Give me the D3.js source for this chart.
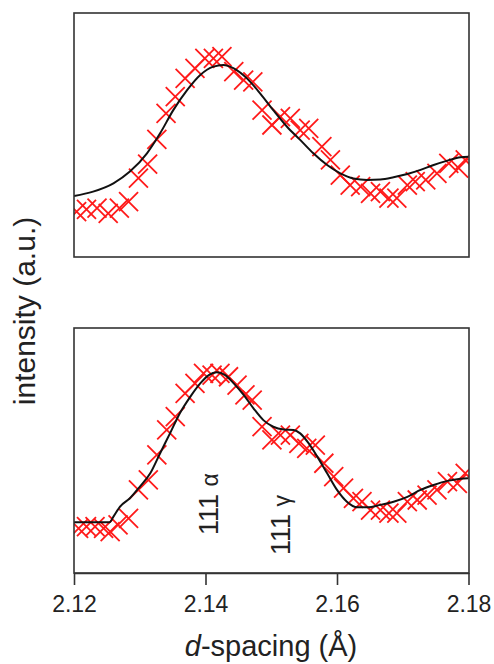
<!DOCTYPE html>
<html>
<head>
<meta charset="utf-8">
<script src="https://cdn.jsdelivr.net/npm/d3@7"></script>
<style>
  html, body { margin: 0; padding: 0; background: #fff; }
  svg { display: block; font-family: "Liberation Sans", Arial, Helvetica, sans-serif; }
</style>
</head>
<body>
<svg id="chart"></svg>
<script>
// d-spacing (Å) / normalised intensity

// top panel: measured points
const topObsD = [2.1204, 2.1219, 2.1235, 2.1252, 2.1269, 2.1283, 2.1298, 2.1312, 2.1326, 2.1340,
  2.1354, 2.1369, 2.1384, 2.1399, 2.1412, 2.1425, 2.1443, 2.1458, 2.1472, 2.1486,
  2.1501, 2.1514, 2.1529, 2.1544, 2.1557, 2.1577, 2.1590, 2.1605, 2.1620, 2.1636,
  2.1651, 2.1666, 2.1679, 2.1691, 2.1707, 2.1719, 2.1735, 2.1752, 2.1770, 2.1785, 2.1795];
const topObsI = [0.186, 0.195, 0.200, 0.179, 0.200, 0.227, 0.323, 0.381, 0.482, 0.589,
  0.657, 0.732, 0.773, 0.814, 0.814, 0.821, 0.760, 0.725, 0.718, 0.602,
  0.541, 0.575, 0.568, 0.520, 0.527, 0.452, 0.398, 0.336, 0.295, 0.288,
  0.261, 0.268, 0.241, 0.241, 0.295, 0.309, 0.316, 0.343, 0.384, 0.364, 0.398];

// top panel: fitted curve
const topFitD = [2.1200, 2.1229, 2.1260, 2.1285, 2.1311, 2.1331, 2.1351, 2.1372, 2.1392, 2.1412,
  2.1427, 2.1443, 2.1463, 2.1483, 2.1503, 2.1524, 2.1544, 2.1564, 2.1585, 2.1605,
  2.1625, 2.1646, 2.1666, 2.1686, 2.1707, 2.1727, 2.1747, 2.1768, 2.1788, 2.1800];
const topFitI = [0.250, 0.268, 0.302, 0.350, 0.425, 0.507, 0.602, 0.684, 0.746, 0.780,
  0.787, 0.773, 0.732, 0.671, 0.602, 0.534, 0.480, 0.425, 0.377, 0.343,
  0.322, 0.316, 0.318, 0.327, 0.340, 0.357, 0.377, 0.395, 0.409, 0.411];

// bottom panel: measured points
const botObsD = [2.1207, 2.1219, 2.1232, 2.1245, 2.1255, 2.1267, 2.1283, 2.1298, 2.1313, 2.1326,
  2.1341, 2.1354, 2.1369, 2.1384, 2.1397, 2.1410, 2.1422, 2.1435, 2.1448, 2.1460,
  2.1471, 2.1486, 2.1501, 2.1514, 2.1529, 2.1542, 2.1554, 2.1567, 2.1580, 2.1595,
  2.1610, 2.1625, 2.1638, 2.1651, 2.1666, 2.1679, 2.1691, 2.1707, 2.1722, 2.1737,
  2.1752, 2.1768, 2.1783, 2.1795];
const botObsI = [0.182, 0.189, 0.189, 0.182, 0.169, 0.196, 0.223, 0.339, 0.380, 0.482,
  0.584, 0.638, 0.733, 0.774, 0.815, 0.808, 0.815, 0.801, 0.767, 0.727,
  0.706, 0.597, 0.543, 0.563, 0.563, 0.529, 0.509, 0.522, 0.448, 0.393,
  0.346, 0.305, 0.291, 0.257, 0.257, 0.244, 0.244, 0.291, 0.298, 0.318,
  0.339, 0.373, 0.366, 0.407];

// bottom panel: fitted curve (two phases)
const botFitD = [2.1200, 2.1254, 2.1260, 2.1270, 2.1285, 2.1300, 2.1316, 2.1331, 2.1346, 2.1361,
  2.1377, 2.1392, 2.1405, 2.1417, 2.1430, 2.1443, 2.1458, 2.1473, 2.1488, 2.1503,
  2.1519, 2.1534, 2.1544, 2.1557, 2.1570, 2.1585, 2.1600, 2.1615, 2.1631, 2.1646,
  2.1666, 2.1686, 2.1707, 2.1727, 2.1747, 2.1768, 2.1788, 2.1800];
const botFitI = [0.207, 0.207, 0.230, 0.271, 0.305, 0.352, 0.407, 0.489, 0.570, 0.652,
  0.720, 0.774, 0.808, 0.819, 0.808, 0.774, 0.727, 0.672, 0.624, 0.597,
  0.586, 0.584, 0.570, 0.529, 0.475, 0.407, 0.339, 0.291, 0.268, 0.268,
  0.278, 0.291, 0.311, 0.339, 0.359, 0.376, 0.385, 0.387];

const xTicks = [2.12, 2.14, 2.16, 2.18];
// peak labels: baseline at d, text starts at intensity i and reads upwards
const peakLabels = [
  { d: 2.1419, i: 0.155, hkl: '111', phase: 'α' },
  { d: 2.1529, i: 0.073, hkl: '111', phase: 'γ' }
];

const width = 494, height = 664;

const svg = d3.select('#chart')
  .attr('width', width)
  .attr('height', height);

const x = d3.scaleLinear().domain([2.12, 2.18]).range([74, 468.5]);

// two stacked panels sharing the x axis
const panels = [
  { id: 'top', top: 13, bottom: 257, obsD: topObsD, obsI: topObsI, fitD: topFitD, fitI: topFitI },
  { id: 'bot', top: 328, bottom: 573, obsD: botObsD, obsI: botObsI, fitD: botFitD, fitI: botFitI }
];

const r = 9.5;
const cross = `M${-r},${-r}L${r},${r}M${-r},${r}L${r},${-r}`;

panels.forEach(p => {
  const y = d3.scaleLinear().domain([0, 1]).range([p.bottom, p.top]);
  p.y = y;

  svg.append('clipPath')
    .attr('id', 'clip-' + p.id)
    .append('rect')
    .attr('x', x.range()[0])
    .attr('y', p.top)
    .attr('width', x.range()[1] - x.range()[0] + 0.5)
    .attr('height', p.bottom - p.top);

  const g = svg.append('g').attr('clip-path', `url(#clip-${p.id})`);

  g.selectAll('path.obs')
    .data(p.obsD.map((d, i) => [d, p.obsI[i]]))
    .join('path')
    .attr('class', 'obs')
    .attr('d', cross)
    .attr('transform', d => `translate(${x(d[0])},${y(d[1])})`)
    .attr('fill', 'none')
    .attr('stroke', '#ff1a1a')
    .attr('stroke-width', 1.8);

  const line = d3.line()
    .x(d => x(d[0]))
    .y(d => y(d[1]))
    .curve(d3.curveMonotoneX);

  g.append('path')
    .datum(p.fitD.map((d, i) => [d, p.fitI[i]]))
    .attr('d', line)
    .attr('fill', 'none')
    .attr('stroke', '#111')
    .attr('stroke-width', 2);

  svg.append('rect')
    .attr('x', 74)
    .attr('y', p.top)
    .attr('width', 469 - 74)
    .attr('height', p.bottom - p.top)
    .attr('fill', 'none')
    .attr('stroke', '#333')
    .attr('stroke-width', 1.6);
});

// x axis under the bottom panel
const axis = svg.append('g')
  .attr('transform', 'translate(0,573)')
  .call(d3.axisBottom(x)
    .tickValues(xTicks)
    .tickSize(12)
    .tickSizeOuter(0)
    .tickPadding(11)
    .tickFormat(d3.format('.2f')));
axis.select('.domain').attr('stroke', '#333').attr('stroke-width', 1.6);
axis.selectAll('.tick line').attr('stroke', '#333').attr('stroke-width', 1.6);
axis.selectAll('.tick text')
  .attr('font-size', 23)
  .attr('font-family', '"Liberation Sans", Arial, sans-serif')
  .attr('fill', '#222');

// peak labels, rotated
const yb = panels[1].y;
svg.selectAll('text.peak')
  .data(peakLabels)
  .join('text')
  .attr('class', 'peak')
  .attr('transform', d => `translate(${x(d.d)},${yb(d.i)}) rotate(-90)`)
  .attr('font-size', 27)
  .attr('fill', '#222')
  .call(t => {
    t.append('tspan').text(d => d.hkl + ' ');
    t.append('tspan').attr('font-size', 23).text(d => d.phase);
  });

// axis titles
svg.append('text')
  .attr('transform', 'translate(35,311) rotate(-90)')
  .attr('text-anchor', 'middle')
  .attr('font-size', 30)
  .attr('fill', '#222')
  .text('intensity (a.u.)');

const xt = svg.append('text')
  .attr('x', 271)
  .attr('y', 656)
  .attr('text-anchor', 'middle')
  .attr('font-size', 29)
  .attr('fill', '#222');
xt.append('tspan').attr('font-style', 'italic').text('d');
xt.append('tspan').text('-spacing (Å)');
</script>
</body>
</html>
